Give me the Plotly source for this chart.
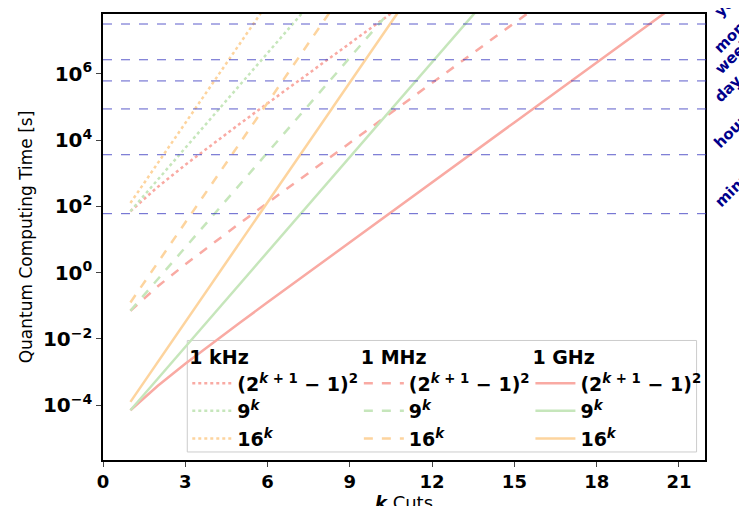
import math
import plotly.graph_objs as go

# k cuts
k_vals = list(range(1, 22))

# operation counts per k
count_mersenne = [9, 49, 225, 961, 3969, 16129, 65025, 261121, 1046529, 4190209,
                  1.677e7, 6.709e7, 2.684e8, 1.074e9, 4.295e9, 1.718e10, 6.872e10,
                  2.749e11, 1.100e12, 4.398e12, 1.759e13]
count_9k = [9, 81, 729, 6561, 5.90e4, 5.31e5, 4.78e6, 4.30e7, 3.87e8, 3.49e9, 3.14e10,
            2.82e11, 2.54e12, 2.29e13, 2.06e14, 1.85e15, 1.67e16, 1.50e17, 1.35e18,
            1.22e19, 1.09e20]
count_16k = [16, 256, 4096, 65536, 1.05e6, 1.68e7, 2.68e8, 4.29e9, 6.87e10, 1.10e12,
             1.76e13, 2.81e14, 4.50e15, 7.21e16, 1.15e18, 1.84e19, 2.95e20, 4.72e21,
             7.56e22, 1.21e24, 1.93e25]

# seconds per operation for each clock rate
freq_names = ['1 kHz', '1 MHz', '1 GHz']
sec_per_op = [7.9, 7.9e-3, 7.9e-6]

count_names = ['<b>(2<sup><i>k</i> + 1</sup> − 1)<sup>2</sup></b>',
               '<b>9<sup><i>k</i></sup></b>', '<b>16<sup><i>k</i></sup></b>']
counts = [count_mersenne, count_9k, count_16k]

time_names = ['minute', 'hour', 'day', 'week', 'month', 'year']
time_secs = [60, 3600, 86400, 604800, 2.63e6, 3.15e7]

colors = ['#f9aaa3', '#c6e6bb', '#fdd49e']
dashes = ['dot', 'dash', 'solid']
legend_ids = ['legend', 'legend2', 'legend3']
legend_x = [0.14, 0.425, 0.71]

FONT = 'DejaVu Sans'
fig = go.Figure()

for fi, fname in enumerate(freq_names):
    for ci, cname in enumerate(count_names):
        fig.add_trace(go.Scatter(
            x=k_vals, y=[c * sec_per_op[fi] for c in counts[ci]],
            mode='lines', name=cname, legend=legend_ids[fi],
            line=dict(color=colors[ci], dash=dashes[fi], width=2.5),
        ))

# horizontal time-scale markers
for name, sec in zip(time_names, time_secs):
    fig.add_shape(type='line', xref='paper', yref='y', x0=0, x1=1.012, y0=sec, y1=sec,
                  line=dict(color='rgb(50,50,190)', width=0.8, dash='dash'))
    fig.add_annotation(xref='paper', yref='y', x=1.005, y=math.log10(sec),
                       text='<b>' + name + '</b>',
                       textangle=-45, showarrow=False, xanchor='left', yanchor='bottom',
                       font=dict(family=FONT, size=15, color='#00008b'))

# legend frame
fig.add_shape(type='rect', xref='paper', yref='paper', x0=0.14, x1=0.986, y0=0.018, y1=0.268,
              line=dict(color='#cccccc', width=1), fillcolor='rgba(255,255,255,0.8)', layer='below')

legend_style = dict(
    bgcolor='rgba(0,0,0,0)', yanchor='top', y=0.27, xanchor='left',
    font=dict(family=FONT, size=19, color='black'), tracegroupgap=0, itemwidth=40,
)
layout_legends = {}
for fi, lid in enumerate(legend_ids):
    layout_legends[lid] = dict(legend_style, x=legend_x[fi],
                               title=dict(text='<b>' + freq_names[fi] + '</b>', side='top',
                                          font=dict(family=FONT, size=19)))

fig.update_layout(
    width=747, height=506,
    margin=dict(l=95, r=50, t=4, b=54),
    plot_bgcolor='white', paper_bgcolor='white',
    font=dict(family=FONT, color='black'),
    **layout_legends,
)
fig.update_xaxes(
    range=[0, 21.95], tickvals=[0, 3, 6, 9, 12, 15, 18, 21],
    ticktext=['<b>%d</b>' % v for v in [0, 3, 6, 9, 12, 15, 18, 21]],
    tickfont=dict(size=18), ticks='outside', ticklen=5, showgrid=False, zeroline=False,
    showline=True, linecolor='black', linewidth=1.5, mirror=True,
    title=dict(text='<b><i>k</i></b> Cuts', font=dict(size=18), standoff=4),
)
fig.update_yaxes(
    type='log', range=[-5.65, 7.8],
    tickvals=[1e-4, 1e-2, 1, 1e2, 1e4, 1e6],
    ticktext=['<b>10<sup>−4</sup></b>', '<b>10<sup>−2</sup></b>', '<b>10<sup>0</sup></b>',
              '<b>10<sup>2</sup></b>', '<b>10<sup>4</sup></b>', '<b>10<sup>6</sup></b>'],
    tickfont=dict(size=20), ticks='outside', ticklen=5, showgrid=False, zeroline=False,
    showline=True, linecolor='black', linewidth=1.5, mirror=True,
    title=dict(text='Quantum Computing Time [s]', font=dict(size=17), standoff=6),
)

fig.write_html("out.html")
